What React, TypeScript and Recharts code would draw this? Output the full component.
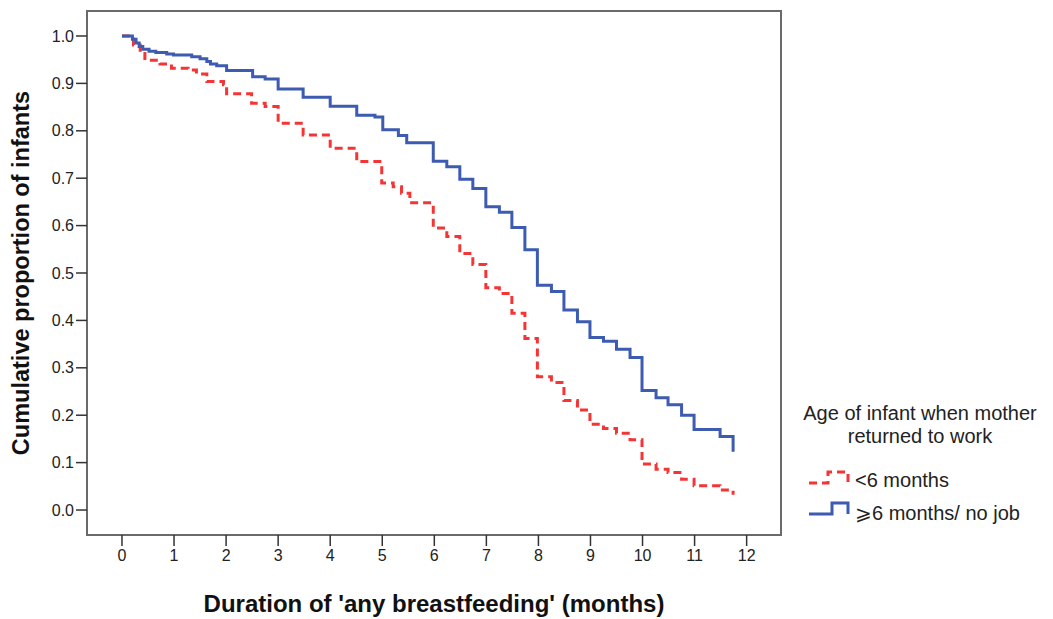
import React from 'react';
import { LineChart, Line, XAxis, YAxis, ReferenceArea } from 'recharts';

const xTicks = [0, 1, 2, 3, 4, 5, 6, 7, 8, 9, 10, 11, 12];
const yTicks = [0, 0.1, 0.2, 0.3, 0.4, 0.5, 0.6, 0.7, 0.8, 0.9, 1.0];

const under6Months = [0, 0.22, 0.35, 0.44, 0.73, 0.95, 1.27, 1.43, 1.63, 1.95, 2.01, 2.49, 2.75, 3.0, 3.48, 4.0, 4.51, 4.99, 5.21, 5.37, 5.53, 5.98, 6.24, 6.49, 6.74, 6.99, 7.25, 7.49, 7.74, 7.98, 8.25, 8.49, 8.75, 8.99, 9.25, 9.5, 9.76, 9.99, 10.26, 10.49, 10.75, 10.99, 11.49, 11.74];
const under6Values = [1.0, 0.981, 0.963, 0.949, 0.941, 0.932, 0.928, 0.92, 0.904, 0.897, 0.878, 0.858, 0.851, 0.816, 0.791, 0.763, 0.735, 0.69, 0.682, 0.668, 0.648, 0.595, 0.577, 0.541, 0.518, 0.469, 0.457, 0.415, 0.362, 0.281, 0.269, 0.231, 0.211, 0.181, 0.172, 0.162, 0.148, 0.097, 0.086, 0.079, 0.065, 0.051, 0.042, 0.032];

const over6Months = [0, 0.2, 0.27, 0.33, 0.4, 0.52, 0.65, 0.86, 0.99, 1.34, 1.5, 1.63, 1.7, 1.82, 2.01, 2.51, 2.75, 3.0, 3.48, 4.0, 4.51, 4.86, 5.01, 5.31, 5.47, 5.98, 6.24, 6.49, 6.74, 6.99, 7.25, 7.49, 7.74, 7.98, 8.25, 8.49, 8.75, 8.99, 9.25, 9.5, 9.76, 9.99, 10.26, 10.49, 10.75, 10.99, 11.49, 11.74];
const over6Values = [1.0, 0.993, 0.985, 0.978, 0.972, 0.968, 0.965, 0.962, 0.96, 0.956, 0.952, 0.946, 0.941, 0.937, 0.927, 0.914, 0.909, 0.888, 0.871, 0.852, 0.833, 0.829, 0.802, 0.79, 0.775, 0.736, 0.724, 0.698, 0.678, 0.64, 0.628, 0.596, 0.549, 0.474, 0.461, 0.422, 0.397, 0.364, 0.356, 0.339, 0.322, 0.252, 0.237, 0.222, 0.2, 0.17, 0.155, 0.123];

const legendTitle = ['Age of infant when mother', 'returned to work'];
const seriesNames = ['<6 months', '⩾6 months/ no job'];

const under6Data = under6Months.map((t, i) => ({ t, v: under6Values[i] }));
const over6Data = over6Months.map((t, i) => ({ t, v: over6Values[i] }));

const RED = '#f53535';
const BLUE = '#3d5bb0';
const FONT = '"Liberation Sans", Arial, sans-serif';

const X_DOMAIN: [number, number] = [-0.672, 12.66];
const Y_DOMAIN: [number, number] = [-0.0527, 1.0527];

export default function App() {
  return (
    <div style={{ position: 'absolute', left: 0, top: 0, width: 1053, height: 619, background: '#fff' }}>
      <LineChart width={1053} height={619} margin={{ top: 11, right: 272, bottom: 54, left: 27 }}>
        <XAxis
          type="number"
          dataKey="t"
          domain={X_DOMAIN}
          ticks={xTicks}
          allowDataOverflow
          axisLine={false}
          tickLine={{ stroke: '#333', strokeWidth: 1.5 }}
          tickSize={11}
          tickMargin={4}
          height={30}
          tick={{ fontSize: 16, fill: '#222', fontFamily: FONT }}
        />
        <YAxis
          type="number"
          dataKey="v"
          domain={Y_DOMAIN}
          ticks={yTicks}
          allowDataOverflow
          axisLine={false}
          tickLine={{ stroke: '#333', strokeWidth: 1.5 }}
          tickSize={11}
          tickMargin={2}
          width={60}
          tickFormatter={(v: number) => v.toFixed(1)}
          tick={{ fontSize: 16, fill: '#222', fontFamily: FONT }}
        />
        <ReferenceArea x1={X_DOMAIN[0]} x2={X_DOMAIN[1]} y1={Y_DOMAIN[0]} y2={Y_DOMAIN[1]} fill="none" stroke="#6a6a6a" strokeWidth={2} ifOverflow="visible" />
        <Line data={under6Data} dataKey="v" type="stepAfter" stroke={RED} strokeWidth={3} strokeDasharray="8 5" dot={false} isAnimationActive={false} name={seriesNames[0]} />
        <Line data={over6Data} dataKey="v" type="stepAfter" stroke={BLUE} strokeWidth={3} dot={false} isAnimationActive={false} name={seriesNames[1]} />
      </LineChart>
      <svg width={1053} height={619} style={{ position: 'absolute', left: 0, top: 0, pointerEvents: 'none' }}>
        <text x={434} y={612} textAnchor="middle" fontSize={24} fontWeight="bold" fontFamily={FONT} fill="#111">Duration of 'any breastfeeding' (months)</text>
        <text transform="translate(29,273) rotate(-90)" textAnchor="middle" fontSize={23.5} fontWeight="bold" fontFamily={FONT} fill="#111">Cumulative proportion of infants</text>
        <g fontFamily={FONT} fontSize={20} fill="#222">
          <text x={920} y={420} textAnchor="middle">{legendTitle[0]}</text>
          <text x={920} y={443} textAnchor="middle">{legendTitle[1]}</text>
          <path d="M809 483 H828 V472 H848 V482" fill="none" stroke={RED} strokeWidth={3} strokeDasharray="8 5" />
          <text x={855} y={487}>{seriesNames[0]}</text>
          <path d="M809 514 H832 V503 H848 V514" fill="none" stroke={BLUE} strokeWidth={3} />
          <text x={855} y={520}>{seriesNames[1]}</text>
        </g>
      </svg>
    </div>
  );
}
